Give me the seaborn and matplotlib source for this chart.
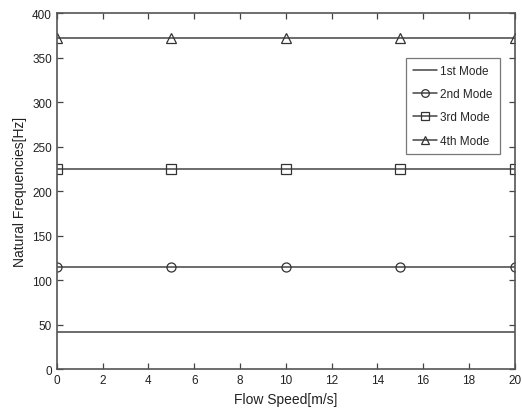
import matplotlib
matplotlib.use("Agg")
import matplotlib.pyplot as plt
import seaborn as sns
import pandas as pd

sns.set_theme(style="white")
plt.rcParams['font.family'] = ['Liberation Sans', 'DejaVu Sans']

flow_speed = [0, 5, 10, 15, 20]
mode1 = [42, 42, 42, 42, 42]
mode2 = [115, 115, 115, 115, 115]
mode3 = [225, 225, 225, 225, 225]
mode4 = [372, 372, 372, 372, 372]
labels = ["1st Mode", "2nd Mode", "3rd Mode", "4th Mode"]
markers = [None, "o", "s", "^"]
xticks = list(range(0, 21, 2))
yticks = list(range(0, 401, 50))

fig = plt.figure(figsize=(5.22, 4.14), dpi=100)
ax = fig.add_axes([0.109, 0.106, 0.877, 0.86])

for vals, lab, mk in zip([mode1, mode2, mode3, mode4], labels, markers):
    df = pd.DataFrame({"x": flow_speed, "y": vals})
    kw = dict(marker=mk, markersize=6.5, markerfacecolor="none",
              markeredgecolor="#333333", markeredgewidth=0.9) if mk else {}
    sns.lineplot(data=df, x="x", y="y", ax=ax, color="#444444", linewidth=1.1,
                 label=lab, **kw)

ax.set_xlim(0, 20)
ax.set_ylim(0, 400)
ax.set_xticks(xticks)
ax.set_yticks(yticks)
ax.set_xlabel("Flow Speed[m/s]", fontsize=10, color="#222222")
ax.set_ylabel("Natural Frequencies[Hz]", fontsize=10, color="#222222")
ax.tick_params(direction="in", length=4, width=0.9, colors="#444444",
               labelcolor="#222222", labelsize=8.5, top=True, right=True,
               bottom=True, left=True)
for s in ax.spines.values():
    s.set_color("#555555")
    s.set_linewidth(1.2)

leg = ax.legend(loc="upper right", bbox_to_anchor=(0.967, 0.874), fontsize=8.5,
                frameon=True, fancybox=False, edgecolor="#555555",
                handlelength=2.0, handletextpad=0.3, borderpad=0.6,
                labelspacing=0.95, borderaxespad=0, markerscale=0.85)
leg.get_frame().set_linewidth(0.9)

fig.savefig("out.png", dpi=100)
